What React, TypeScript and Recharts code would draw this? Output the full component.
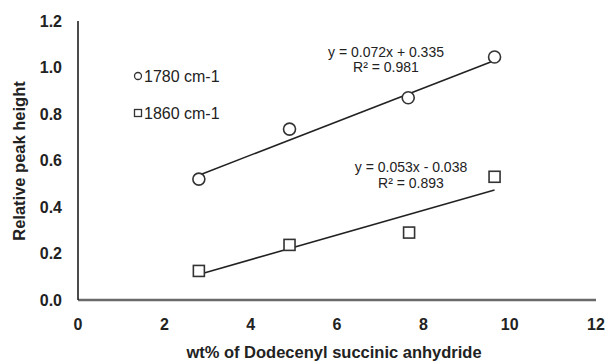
import React from 'react';
import { ScatterChart, Scatter, XAxis, YAxis, Customized } from 'recharts';

const xTicks = [0, 2, 4, 6, 8, 10, 12];
const yTicks = [0, 0.2, 0.4, 0.6, 0.8, 1.0, 1.2];

const series1780 = [
  { x: 2.8, y: 0.52 },
  { x: 4.9, y: 0.735 },
  { x: 7.65, y: 0.87 },
  { x: 9.65, y: 1.045 },
];
const series1860 = [
  { x: 2.8, y: 0.125 },
  { x: 4.9, y: 0.237 },
  { x: 7.67, y: 0.29 },
  { x: 9.65, y: 0.53 },
];
const trend1780 = [
  { x: 2.8, y: 0.537 },
  { x: 9.65, y: 1.03 },
];
const trend1860 = [
  { x: 2.8, y: 0.11 },
  { x: 9.65, y: 0.473 },
];

const FONT = '"Liberation Sans", Arial, sans-serif';
const INK = '#333';
const TEXT = '#222';

const CircleMark = (props: any) => (
  <circle cx={props.cx} cy={props.cy} r={6} fill="#fff" stroke={INK} strokeWidth={1.6} />
);
const SquareMark = (props: any) => (
  <rect x={props.cx - 5.5} y={props.cy - 5.5} width={11} height={11} fill="#fff" stroke={INK} strokeWidth={1.6} />
);
const NoMark = () => <g />;

const Overlay = () => (
  <g fontFamily={FONT}>
    <circle cx={138} cy={76} r={3.5} fill="#fff" stroke={INK} strokeWidth={1.3} />
    <text x={144} y={81.5} fontSize={16} fill={TEXT}>1780 cm-1</text>
    <rect x={134.5} y={109.5} width={7} height={7} fill="#fff" stroke={INK} strokeWidth={1.3} />
    <text x={144} y={118.5} fontSize={16} fill={TEXT}>1860 cm-1</text>

    <text x={386} y={57} fontSize={14} textAnchor="middle" fill={TEXT}>y = 0.072x  + 0.335</text>
    <text x={386} y={72} fontSize={14} textAnchor="middle" fill={TEXT}>R² = 0.981</text>
    <text x={411} y={172} fontSize={14} textAnchor="middle" fill={TEXT}>y = 0.053x  - 0.038</text>
    <text x={411} y={188} fontSize={14} textAnchor="middle" fill={TEXT}>R² = 0.893</text>

    <text x={334} y={358} fontSize={16.5} fontWeight="bold" textAnchor="middle" fill={TEXT}>wt% of Dodecenyl succinic anhydride</text>
    <text x={25} y={161} fontSize={16.5} fontWeight="bold" textAnchor="middle" fill={TEXT} transform="rotate(-90 25 161)">Relative peak height</text>
  </g>
);

export default function App() {
  return (
    <div style={{ position: 'absolute', left: 0, top: 0, background: '#fff' }}>
      <ScatterChart width={606} height={364} margin={{ top: 21, right: 10, left: 0, bottom: 0 }}>
        <XAxis
          type="number"
          dataKey="x"
          domain={[0, 12]}
          ticks={xTicks}
          height={64}
          tickLine={false}
          tickSize={0}
          tickMargin={19}
          axisLine={{ stroke: '#6a6a6a', strokeWidth: 2.5 }}
          tick={{ fill: TEXT, fontSize: 16, fontWeight: 'bold', fontFamily: FONT }}
          interval={0}
        />
        <YAxis
          type="number"
          dataKey="y"
          domain={[0, 1.2]}
          ticks={yTicks}
          width={78}
          tickLine={false}
          tickSize={0}
          tickMargin={16}
          axisLine={{ stroke: '#111', strokeWidth: 1.5 }}
          tick={{ fill: TEXT, fontSize: 16, fontWeight: 'bold', fontFamily: FONT }}
          tickFormatter={(v: number) => v.toFixed(1)}
          interval={0}
        />
        <Scatter data={trend1780} line={{ stroke: '#222', strokeWidth: 1.6 }} lineType="joint" shape={NoMark} isAnimationActive={false} />
        <Scatter data={trend1860} line={{ stroke: '#222', strokeWidth: 1.6 }} lineType="joint" shape={NoMark} isAnimationActive={false} />
        <Scatter data={series1780} shape={CircleMark} isAnimationActive={false} />
        <Scatter data={series1860} shape={SquareMark} isAnimationActive={false} />
        <Customized component={Overlay} />
      </ScatterChart>
    </div>
  );
}
